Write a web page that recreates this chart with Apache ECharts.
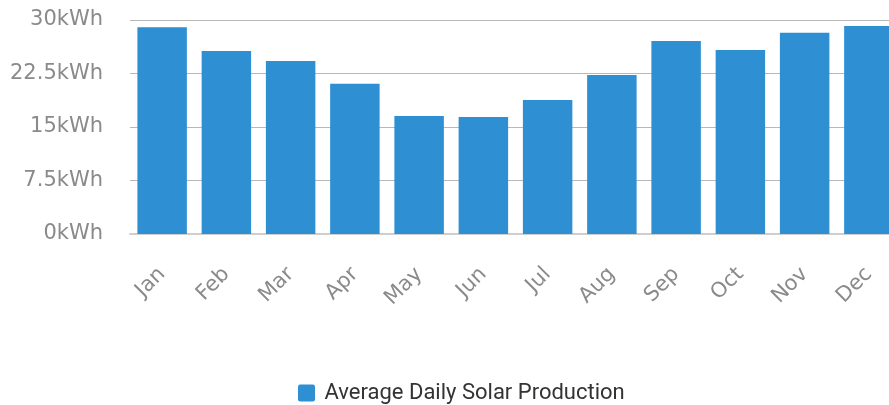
<!DOCTYPE html>
<html>
<head>
<meta charset="utf-8">
<script src="https://cdn.jsdelivr.net/npm/echarts@6/dist/echarts.min.js"></script>
<style>
  html, body { margin: 0; padding: 0; background: #fff; }
  #chart { width: 889px; height: 405px; }
</style>
</head>
<body>
<div id="chart"></div>
<script>
// months along the x axis
const months = ['Jan', 'Feb', 'Mar', 'Apr', 'May', 'Jun', 'Jul', 'Aug', 'Sep', 'Oct', 'Nov', 'Dec'];
// average daily production, kWh
const production = [29.0, 25.65, 24.25, 21.05, 16.55, 16.4, 18.8, 22.3, 27.05, 25.8, 28.2, 29.15];
const seriesName = 'Average Daily Solar Production';

// small rounded square for the legend marker
const legendIcon = 'path://M2,0H14A2,2 0 0 1 16,2V14A2,2 0 0 1 14,16H2A2,2 0 0 1 0,14V2A2,2 0 0 1 2,0Z';

const chart = echarts.init(document.getElementById('chart'));

chart.setOption({
    animation: false,
    // the plot runs a little past the right edge of the canvas
    grid: { left: 130, top: 20, right: -12, height: 214, containLabel: false, outerBoundsMode: 'none' },
    legend: {
        top: 377,
        left: 293,
        icon: legendIcon,
        itemWidth: 26,
        itemHeight: 17,
        textStyle: { fontFamily: 'Roboto', fontSize: 22, color: '#333' },
        data: [seriesName]
    },
    xAxis: {
        type: 'category',
        data: months,
        axisTick: { show: false },
        axisLine: { lineStyle: { color: '#cfcfcf', width: 2 } },
        axisLabel: {
            rotate: 45,
            margin: 37,
            color: '#8a8a8a',
            fontFamily: 'DejaVu Sans',
            fontSize: 21
        }
    },
    yAxis: {
        type: 'value',
        min: 0,
        max: 30,
        interval: 7.5,
        axisLine: { show: false },
        axisTick: { show: false },
        splitLine: { lineStyle: { color: '#b8b8b8', width: 1 } },
        axisLabel: {
            margin: 27,
            color: '#8a8a8a',
            fontFamily: 'DejaVu Sans',
            fontSize: 21,
            formatter: v => v + 'kWh'
        }
    },
    series: [{
        name: seriesName,
        type: 'bar',
        data: production,
        barCategoryGap: '23%',
        itemStyle: { color: '#2e8fd3' }
    }]
});
</script>
</body>
</html>
